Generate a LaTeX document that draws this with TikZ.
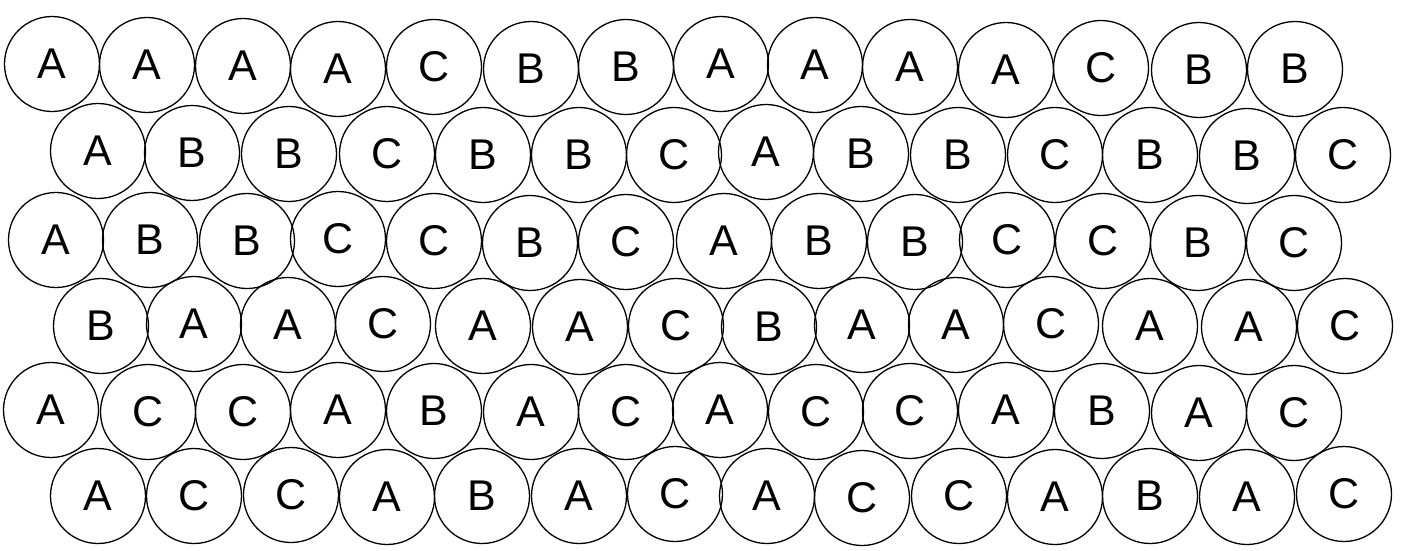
\documentclass[tikz,border=0pt]{standalone}
\usepackage{fontspec}
\setmainfont{Liberation Sans}
\usetikzlibrary{positioning}

\begin{document}
\begin{tikzpicture}[
  x=1pt, y=-1pt,
  cerchio/.style={draw=black, line width=1.3pt, circle,
                  minimum size=95pt, inner sep=0pt,
                  font=\fontsize{43}{43}\selectfont}
]

% Riquadro fisso: stesse proporzioni dell'originale (in pixel, y verso il basso)
\useasboundingbox (0,0) rectangle (1405,550);

% ---- riga 1 --------------------------------------------------------
\node[cerchio] (r1-c1)  at (52,64)   {A};
\node[cerchio] (r1-c2)  at (147,65)  {A};
\node[cerchio] (r1-c3)  at (243,66)  {A};
\node[cerchio] (r1-c4)  at (338,69)  {A};
\node[cerchio] (r1-c5)  at (434,67)  {C};
\node[cerchio] (r1-c6)  at (531,69)  {B};
\node[cerchio] (r1-c7)  at (626,67)  {B};
\node[cerchio] (r1-c8)  at (721,64)  {A};
\node[cerchio] (r1-c9)  at (815,65)  {A};
\node[cerchio] (r1-c10) at (910,67)  {A};
\node[cerchio] (r1-c11) at (1006,70) {A};
\node[cerchio] (r1-c12) at (1101,68) {C};
\node[cerchio] (r1-c13) at (1199,70) {B};
\node[cerchio] (r1-c14) at (1295,69) {B};

% ---- riga 2 --------------------------------------------------------
\node[cerchio] (r2-c1)  at (98,151)   {A};
\node[cerchio] (r2-c2)  at (192,153)  {B};
\node[cerchio] (r2-c3)  at (289,154)  {B};
\node[cerchio] (r2-c4)  at (387,154)  {C};
\node[cerchio] (r2-c5)  at (483,155)  {B};
\node[cerchio] (r2-c6)  at (579,155)  {B};
\node[cerchio] (r2-c7)  at (674,155)  {C};
\node[cerchio] (r2-c8)  at (766,152)  {A};
\node[cerchio] (r2-c9)  at (861,154)  {B};
\node[cerchio] (r2-c10) at (958,155)  {B};
\node[cerchio] (r2-c11) at (1055,155) {C};
\node[cerchio] (r2-c12) at (1150,155) {B};
\node[cerchio] (r2-c13) at (1247,156) {B};
\node[cerchio] (r2-c14) at (1343,155) {C};

% ---- riga 3 --------------------------------------------------------
\node[cerchio] (r3-c1)  at (56,240)   {A};
\node[cerchio] (r3-c2)  at (150,240)  {B};
\node[cerchio] (r3-c3)  at (247,241)  {B};
\node[cerchio] (r3-c4)  at (338,239)  {C};
\node[cerchio] (r3-c5)  at (434,241)  {C};
\node[cerchio] (r3-c6)  at (530,243)  {B};
\node[cerchio] (r3-c7)  at (626,242)  {C};
\node[cerchio] (r3-c8)  at (724,241)  {A};
\node[cerchio] (r3-c9)  at (819,241)  {B};
\node[cerchio] (r3-c10) at (915,242)  {B};
\node[cerchio] (r3-c11) at (1007,240) {C};
\node[cerchio] (r3-c12) at (1103,241) {C};
\node[cerchio] (r3-c13) at (1198,243) {B};
\node[cerchio] (r3-c14) at (1294,243) {C};

% ---- riga 4 --------------------------------------------------------
\node[cerchio] (r4-c1)  at (101,326)  {B};
\node[cerchio] (r4-c2)  at (194,324)  {A};
\node[cerchio] (r4-c3)  at (288,325)  {A};
\node[cerchio] (r4-c4)  at (383,324)  {C};
\node[cerchio] (r4-c5)  at (483,326)  {A};
\node[cerchio] (r4-c6)  at (580,327)  {A};
\node[cerchio] (r4-c7)  at (676,326)  {C};
\node[cerchio] (r4-c8)  at (769,327)  {B};
\node[cerchio] (r4-c9)  at (862,325)  {A};
\node[cerchio] (r4-c10) at (956,325)  {A};
\node[cerchio] (r4-c11) at (1051,324) {C};
\node[cerchio] (r4-c12) at (1150,326) {A};
\node[cerchio] (r4-c13) at (1249,327) {A};
\node[cerchio] (r4-c14) at (1345,326) {C};

% ---- riga 5 --------------------------------------------------------
\node[cerchio] (r5-c1)  at (51,410)   {A};
\node[cerchio] (r5-c2)  at (148,412)  {C};
\node[cerchio] (r5-c3)  at (243,412)  {C};
\node[cerchio] (r5-c4)  at (338,410)  {A};
\node[cerchio] (r5-c5)  at (434,411)  {B};
\node[cerchio] (r5-c6)  at (531,412)  {A};
\node[cerchio] (r5-c7)  at (626,412)  {C};
\node[cerchio] (r5-c8)  at (720,410)  {A};
\node[cerchio] (r5-c9)  at (816,412)  {C};
\node[cerchio] (r5-c10) at (910,411)  {C};
\node[cerchio] (r5-c11) at (1006,410) {A};
\node[cerchio] (r5-c12) at (1102,411) {B};
\node[cerchio] (r5-c13) at (1199,413) {A};
\node[cerchio] (r5-c14) at (1294,413) {C};

% ---- riga 6 --------------------------------------------------------
\node[cerchio] (r6-c1)  at (98,496)   {A};
\node[cerchio] (r6-c2)  at (194,496)  {C};
\node[cerchio] (r6-c3)  at (291,495)  {C};
\node[cerchio] (r6-c4)  at (387,497)  {A};
\node[cerchio] (r6-c5)  at (482,496)  {B};
\node[cerchio] (r6-c6)  at (579,496)  {A};
\node[cerchio] (r6-c7)  at (675,494)  {C};
\node[cerchio] (r6-c8)  at (767,496)  {A};
\node[cerchio] (r6-c9)  at (862,498)  {C};
\node[cerchio] (r6-c10) at (959,496)  {C};
\node[cerchio] (r6-c11) at (1055,497) {A};
\node[cerchio] (r6-c12) at (1150,496) {B};
\node[cerchio] (r6-c13) at (1247,497) {A};
\node[cerchio] (r6-c14) at (1344,494) {C};

\end{tikzpicture}
\end{document}
